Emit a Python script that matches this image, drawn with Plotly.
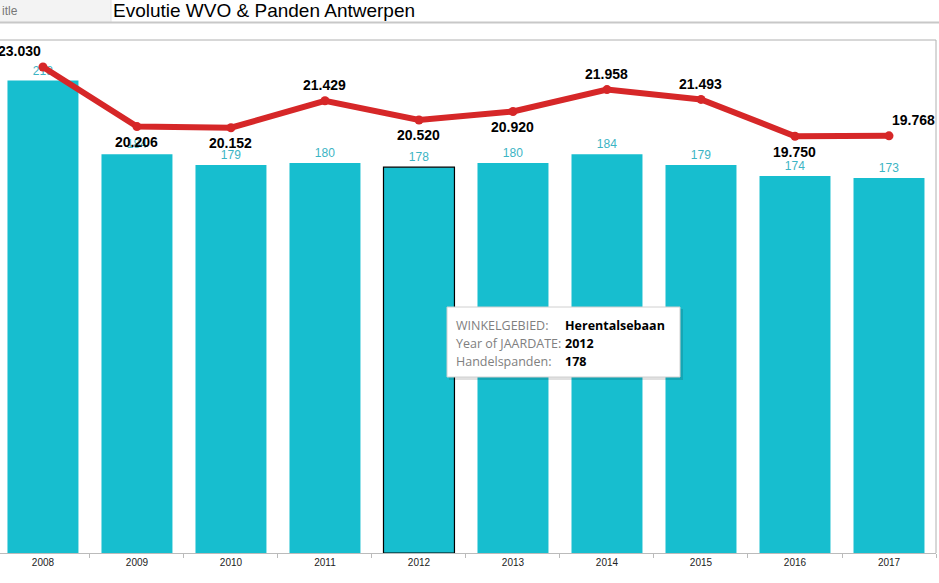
import plotly.graph_objects as go

years = ["2008", "2009", "2010", "2011", "2012", "2013", "2014", "2015", "2016", "2017"]
panden = [218, 184, 179, 180, 178, 180, 184, 179, 174, 173]
wvo = [23030, 20206, 20152, 21429, 20520, 20920, 21958, 21493, 19750, 19768]
# label placement: above (+1) or below (-1) the point
wvo_label_side = [1, -1, -1, 1, -1, -1, 1, 1, -1, 1]
selected_year = "2012"

tooltip_labels = ["WINKELGEBIED:", "Year of JAARDATE:", "Handelspanden:"]
tooltip_values = ["Herentalsebaan", "2012", "178"]

BAR = "#17becf"
RED = "#d62728"
FONT = "Arial"

fig = go.Figure()
fig.add_trace(go.Bar(
    x=years, y=panden, width=0.755,
    marker=dict(color=BAR,
                line=dict(color=["black" if y == selected_year else BAR for y in years],
                          width=[1.2 if y == selected_year else 0 for y in years])),
    text=panden, textposition="outside", cliponaxis=False,
    textfont=dict(color="#3cb4c4", size=12, family=FONT),
    hoverinfo="skip", showlegend=False,
))
fig.add_trace(go.Scatter(
    x=years, y=wvo, yaxis="y2", mode="lines+markers",
    line=dict(color=RED, width=6), marker=dict(color=RED, size=9),
    cliponaxis=False, hoverinfo="skip", showlegend=False,
))

fig.update_layout(
    width=939, height=583,
    margin=dict(l=0, r=3, t=40, b=30),
    paper_bgcolor="white", plot_bgcolor="white",
    separators=",.",
    xaxis=dict(type="category", range=[-0.457, 9.5], tickson="boundaries",
               ticks="outside", ticklen=4, tickcolor="#bbbbbb",
               showline=True, linecolor="#bbbbbb", linewidth=1,
               showgrid=False, tickfont=dict(size=10, family=FONT, color="#222222")),
    yaxis=dict(range=[0, 236.7], visible=False, showgrid=False),
    yaxis2=dict(range=[0, 24309], overlaying="y", side="right", visible=False, showgrid=False),
)

shapes = [
    dict(type="rect", xref="paper", yref="paper", x0=0, x1=111 / 936, y0=1 + 18 / 513, y1=1 + 40 / 513,
         fillcolor="#f3f3f3", line_width=0, layer="below"),
    dict(type="line", xref="paper", yref="paper", x0=111 / 936, x1=111 / 936, y0=1 + 18 / 513, y1=1 + 40 / 513,
         line=dict(color="#e4e4e4", width=1)),
    dict(type="line", xref="paper", yref="paper", x0=0, x1=939 / 936, y0=1 + 17.5 / 513, y1=1 + 17.5 / 513,
         line=dict(color="#c8c8c8", width=2)),
    dict(type="line", xref="paper", yref="paper", x0=0, x1=1, y0=1, y1=1,
         line=dict(color="#b0b0b0", width=1)),
    dict(type="line", xref="paper", yref="paper", x0=1, x1=1, y0=0, y1=1,
         line=dict(color="#b0b0b0", width=1)),
    dict(type="rect", xref="paper", yref="paper", x0=449 / 936, x1=683 / 936,
         y0=1 - 380 / 513 + 40 / 513, y1=1 - 309 / 513 + 40 / 513,
         fillcolor="rgba(0,0,0,0.12)", line_width=0),
    dict(type="rect", xref="paper", yref="paper", x0=447 / 936, x1=680 / 936,
         y0=1 - 377 / 513 + 40 / 513, y1=1 - 307 / 513 + 40 / 513,
         fillcolor="white", line=dict(color="#d0d0d0", width=1)),
]
fig.update_layout(shapes=shapes)

def py(ypix):
    return 1 - (ypix - 40) / 513

annotations = [
    dict(text="itle", xref="paper", yref="paper", x=0, y=py(11), xanchor="left", yanchor="middle",
         showarrow=False, font=dict(size=12, color="#777777", family=FONT)),
    dict(text="Evolutie WVO & Panden Antwerpen", xref="paper", yref="paper", x=111 / 936, y=py(10),
         xanchor="left", yanchor="middle", showarrow=False,
         font=dict(size=19, color="black", family=FONT)),
]
n = len(years)
for i, (yr, v, side) in enumerate(zip(years, wvo, wvo_label_side)):
    if i == 0:
        xanchor, xshift = "right", 0
    elif i == n - 1:
        xanchor, xshift = "left", 1
    else:
        xanchor, xshift = "center", 0
    annotations.append(dict(
        text="<b>" + f"{v:,}".replace(",", ".") + "</b>", x=i, y=v, xref="x", yref="y2",
        xanchor=xanchor, yanchor="middle", xshift=xshift, yshift=15.5 * side, showarrow=False,
        font=dict(size=14, color="black", family=FONT)))
for i, (lab, val) in enumerate(zip(tooltip_labels, tooltip_values)):
    yy = py(325 + 18 * i)
    annotations.append(dict(text=lab, xref="paper", yref="paper", x=454 / 936, y=yy, xanchor="left",
                            yanchor="middle", showarrow=False,
                            font=dict(size=12.5, color="#808080", family="Open Sans")))
    annotations.append(dict(text=f"<b>{val}</b>", xref="paper", yref="paper", x=563 / 936, y=yy,
                            xanchor="left", yanchor="middle", showarrow=False,
                            font=dict(size=12.5, color="black", family="Open Sans")))
fig.update_layout(annotations=annotations)

fig.write_html("out.html", config={"displayModeBar": False},
               post_script="document.body.style.margin='0';")
